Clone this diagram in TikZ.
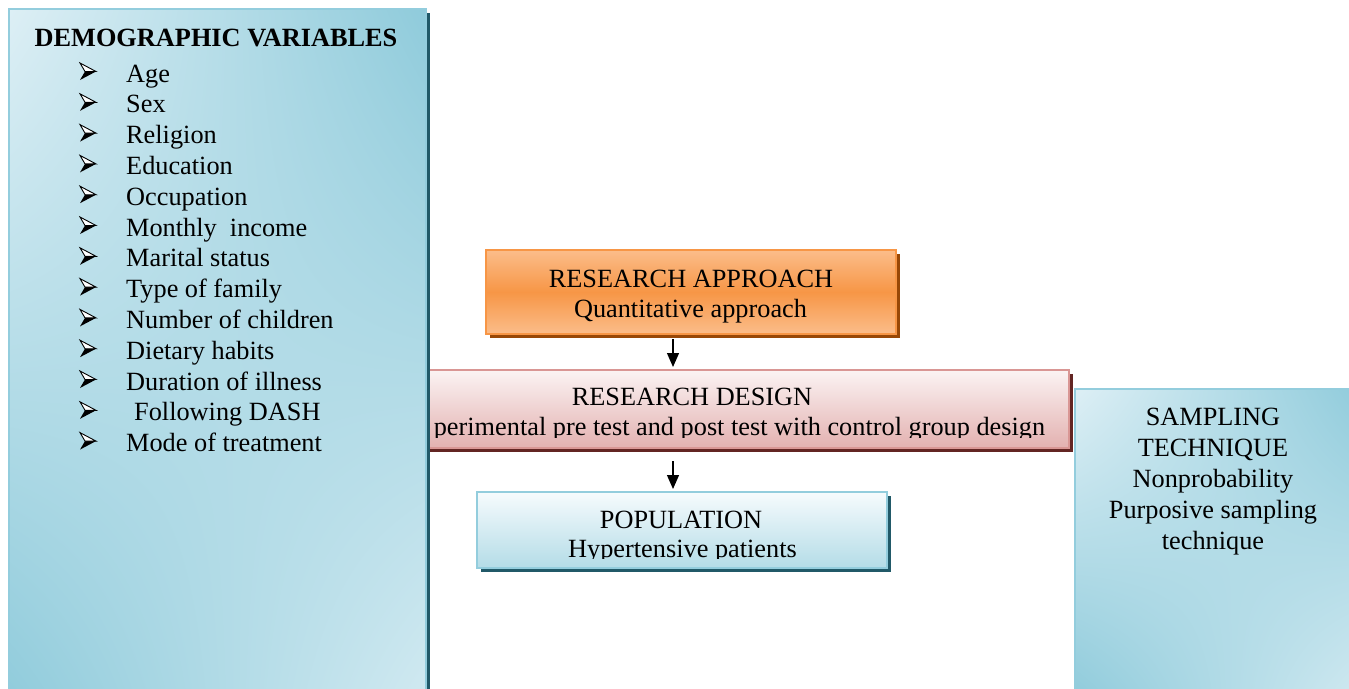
\documentclass[tikz,border=0pt]{standalone}
\usepackage{fontspec}
\setmainfont{Liberation Serif}
\usetikzlibrary{positioning,shadows,shadings,arrows.meta}

\definecolor{aquaD}{HTML}{8FCBDB}
\definecolor{aquaL}{HTML}{DDEFF5}
\definecolor{aquaLine}{HTML}{93CDDD}
\definecolor{aquaShd}{HTML}{215968}
\definecolor{orangeM}{HTML}{F79646}
\definecolor{orangeL}{HTML}{FBBD8A}
\definecolor{orangeShd}{HTML}{984807}
\definecolor{pinkL}{HTML}{FBF3F3}
\definecolor{pinkD}{HTML}{E3B1B0}
\definecolor{pinkLine}{HTML}{D99694}
\definecolor{pinkShd}{HTML}{632523}
\definecolor{popL}{HTML}{F6FBFD}
\definecolor{popD}{HTML}{B4DCE7}

\tikzset{
  txt/.style={font=\fontsize{26.3pt}{31pt}\selectfont, inner sep=0pt, anchor=base},
  shd/.style={drop shadow={shadow xshift=3.5pt, shadow yshift=-3.5pt, opacity=1, fill=#1}},
  panel/.style={shd=aquaShd, draw=aquaLine, line width=2pt, upper left=aquaL, lower right=aquaL!85!aquaD, upper right=aquaD, lower left=aquaD, anchor=north west, inner sep=0pt},
  flowbox/.style={line width=2pt, inner sep=0pt, minimum width=410pt},
  link/.style={line width=1.2pt, -{Triangle[width=12pt,length=14pt]}},
  arrowbullet/.pic={
    \fill[black] (-8,8.5) -- (8,0) -- (-3,0) -- cycle;
    \draw[line width=0.9pt, fill=white, line join=miter] (-8,-8.5) -- (8,0) -- (-3,0) -- cycle;
  },
}

\begin{document}
\begin{tikzpicture}[x=1pt,y=-1pt]
\useasboundingbox (0,0) rectangle (1349,688);

% research design box (partly under the left panel)
\node[flowbox, shd=pinkShd, draw=pinkLine, top color=pinkL, bottom color=pinkD, minimum width=649pt, minimum height=78pt] (design) at (744.5,409) {};

% side panels
\node[panel, minimum width=417pt, minimum height=700pt] (demo) at (8,8) {};
\node[panel, minimum width=290pt, minimum height=310pt] (samp) at (1074,388) {};

% demographic variables
\node[txt, font=\fontsize{26.3pt}{31pt}\selectfont\bfseries] (demoTitle) at (216,46) {DEMOGRAPHIC VARIABLES};
\foreach \t [count=\i] in {Age, Sex, Religion, Education, Occupation, Monthly~ income, Marital status, Type of family, Number of children, Dietary habits, Duration of illness, \hspace{8pt}Following DASH, Mode of treatment}{
  \pic (bul\i) at (88,{71.5+30.8*(\i-1)}) {arrowbullet};
  \node[txt, anchor=base west] (item\i) at (126,{82+30.8*(\i-1)}) {\t};
}

% sampling technique
\foreach \t [count=\i] in {SAMPLING, TECHNIQUE, Nonprobability, Purposive sampling, technique}
  \node[txt] (sampLine\i) at (1213,{425+31*(\i-1)}) {\t};

% research approach
\node[flowbox, shd=orangeShd, draw=orangeM, top color=orangeL, bottom color=orangeL, middle color=orangeM, minimum height=84pt] (approach) at (691,292) {};
\node[txt] (approachTitle) at (691,287) {RESEARCH APPROACH};
\node[txt] (approachText) at (690.5,317) {Quantitative approach};

% research design text
\node[txt] (designTitle) at (692,405) {RESEARCH DESIGN};
\begin{scope}
  \clip (design.north west) rectangle (1069,437);
  \node[txt] (designText) at (739.5,435) {perimental pre test and post test with control group design};
\end{scope}

% population
\node[flowbox, shd=aquaShd, draw=aquaLine, top color=popL, bottom color=popD, minimum height=76pt] (pop) at (682,530) {};
\node[txt] (popTitle) at (681,528) {POPULATION};
\begin{scope}
  \clip (pop.north west) rectangle (887,558);
  \node[txt] (popText) at (682.5,557) {Hypertensive patients};
\end{scope}

% arrows
\coordinate (ax) at (673,0);
\draw[link, shorten <=4pt, shorten >=2pt] (approach.south -| ax) -- (design.north -| ax);
\draw[link, shorten <=12pt, shorten >=2pt] (design.south -| ax) -- (pop.north -| ax);
\end{tikzpicture}
\end{document}
